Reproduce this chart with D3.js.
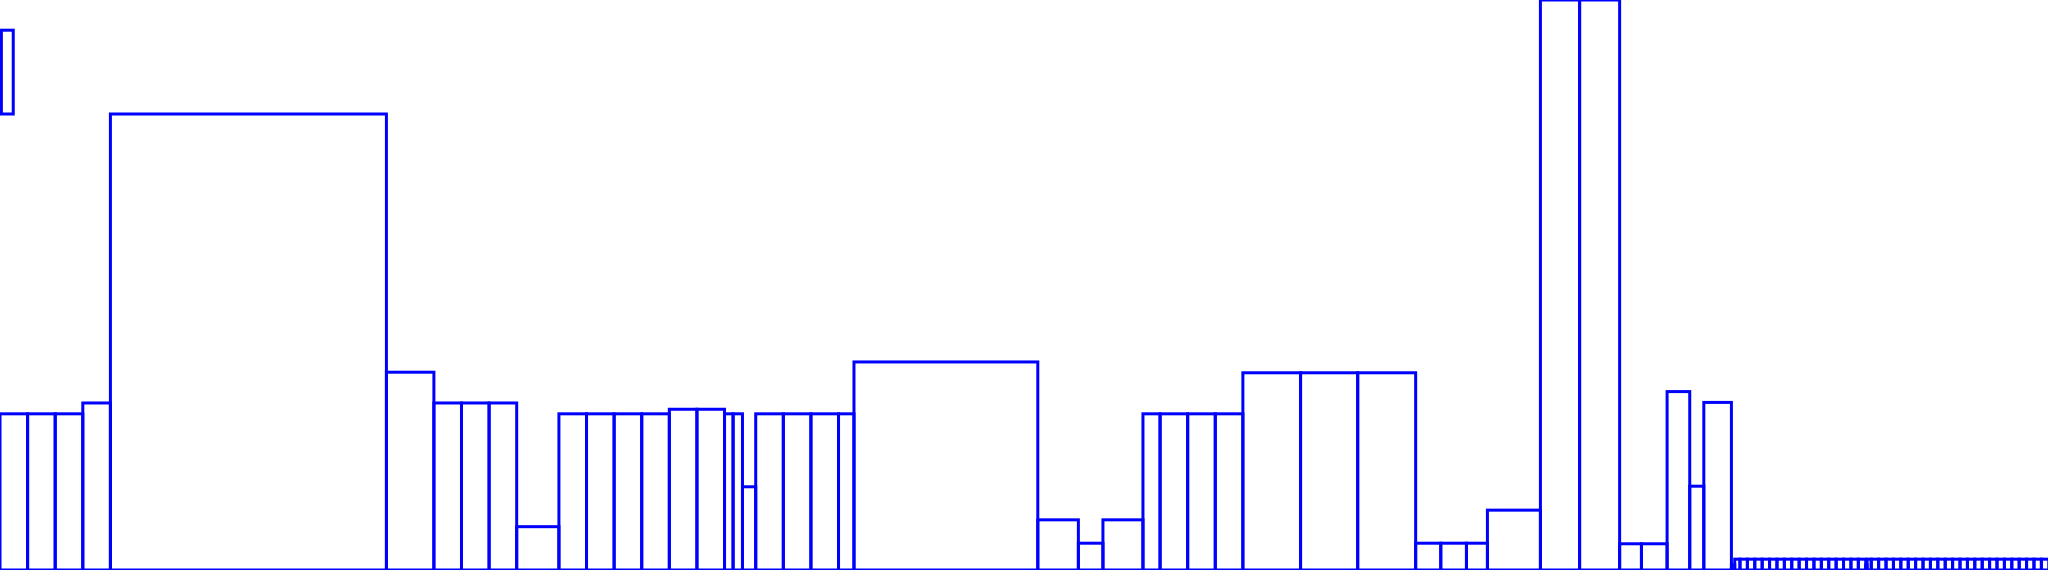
<!DOCTYPE html>
<html><head><meta charset="utf-8">
<script src="https://cdn.jsdelivr.net/npm/d3@7"></script>
<style>html,body{margin:0;padding:0;background:#fff;overflow:hidden}</style>
</head><body>
<script>
// Contiguous variable-width bars: widths (x units) and values (y units)
const barWidths = [
  1, 1, 1, 1, 10, 1.72, 1, 1, 1, 1.53,
  1, 1, 1, 1, 1, 1, 0.31, 0.34, 0.48, 1,
  1, 1, 0.56, 6.66, 1.47, 0.89, 1.45, 0.62, 1, 1,
  1, 2.09, 2.07, 2.1, 0.91, 0.93, 0.76, 1.92, 1.42, 1.45,
  0.79, 0.93, 0.82, 0.51, 1, 0.12, 0.19,
  0.268, 0.268, 0.268, 0.268, 0.268, 0.268, 0.268, 0.268, 0.268, 0.268,
  0.268, 0.268, 0.268, 0.268, 0.268, 0.268, 0.268,
  0.05, 0.15,
  0.268, 0.268, 0.268, 0.268, 0.268, 0.268, 0.268, 0.268, 0.268, 0.268,
  0.268, 0.268, 0.268, 0.268, 0.268, 0.268, 0.268, 0.268, 0.268, 0.268,
  0.268, 0.268, 0.268, 0.268
];
const barValues = [
  27.4, 27.4, 27.4, 29.3, 80, 34.7, 29.3, 29.3, 29.3, 7.6,
  27.4, 27.4, 27.4, 27.4, 28.2, 28.2, 27.4, 27.4, 14.6, 27.4,
  27.4, 27.4, 27.4, 36.5, 8.8, 4.7, 8.8, 27.4, 27.4, 27.4,
  27.4, 34.6, 34.6, 34.6, 4.7, 4.7, 4.7, 10.5, 100, 100,
  4.6, 4.6, 31.3, 14.7, 29.4, 0.9, 1.9,
  1.9, 1.9, 1.9, 1.9, 1.9, 1.9, 1.9, 1.9, 1.9, 1.9,
  1.9, 1.9, 1.9, 1.9, 1.9, 1.9, 1.9,
  0.9, 1.9,
  1.9, 1.9, 1.9, 1.9, 1.9, 1.9, 1.9, 1.9, 1.9, 1.9,
  1.9, 1.9, 1.9, 1.9, 1.9, 1.9, 1.9, 1.9, 1.9, 1.9,
  1.9, 1.9, 1.9, 1.9
];
// One floating box
const floatX = [0.05, 0.48];
const floatY = [80, 94.7];

const W = 2048, H = 570;
const x = d3.scaleLinear().domain([0, 74.2]).range([0, W]);
const y = d3.scaleLinear().domain([0, 100]).range([H, 0]);

let acc = 0;
const bars = barWidths.map((w, i) => {
  const b = {x0: acc, x1: acc + w, v: barValues[i]};
  acc += w;
  return b;
});

const svg = d3.select("body").append("svg")
  .attr("width", W).attr("height", H)
  .style("display", "block").style("background", "#fff");

svg.append("rect")
  .attr("x", x(floatX[0])).attr("width", x(floatX[1]) - x(floatX[0]))
  .attr("y", y(floatY[1])).attr("height", y(floatY[0]) - y(floatY[1]))
  .attr("fill", "none").attr("stroke", "#0000ff").attr("stroke-width", 3);

svg.selectAll("rect.bar").data(bars).enter().append("rect")
  .attr("class", "bar")
  .attr("x", d => x(d.x0))
  .attr("width", d => x(d.x1) - x(d.x0))
  .attr("y", d => y(d.v))
  .attr("height", d => y(0) - y(d.v))
  .attr("fill", "none")
  .attr("stroke", "#0000ff")
  .attr("stroke-width", 3);
</script>
</body></html>
